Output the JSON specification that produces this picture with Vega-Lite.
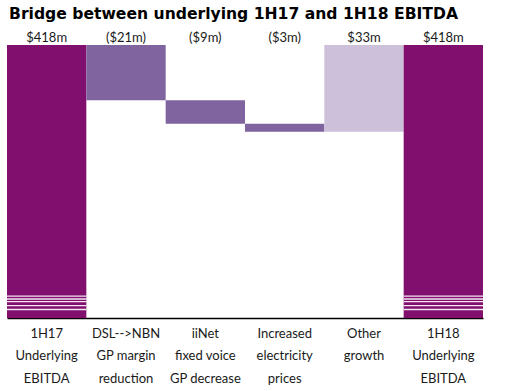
{
  "$schema": "https://vega.github.io/schema/vega-lite/v6.json",
  "autosize": "none",
  "width": 476,
  "height": 273,
  "padding": {"left": 7, "top": 45, "right": 32, "bottom": 73},
  "background": "white",
  "title": {
    "text": "Bridge between underlying 1H17 and 1H18 EBITDA",
    "anchor": "start",
    "font": "DejaVu Sans",
    "fontSize": 15.6,
    "fontWeight": "bold",
    "color": "#000000",
    "offset": 9,
    "dx": 2
  },
  "config": {"view": {"stroke": null}},
  "data": {
    "values": [
      {"cat": "1H17|Underlying|EBITDA", "start": 0, "end": 418, "kind": "total", "label": "$418m"},
      {"cat": "DSL-->NBN|GP margin|reduction", "start": 418, "end": 397, "kind": "down", "label": "($21m)"},
      {"cat": "iiNet|fixed voice|GP decrease", "start": 397, "end": 388, "kind": "down", "label": "($9m)"},
      {"cat": "Increased|electricity|prices", "start": 388, "end": 385, "kind": "down", "label": "($3m)"},
      {"cat": "Other|growth", "start": 385, "end": 418, "kind": "up", "label": "$33m"},
      {"cat": "1H18|Underlying|EBITDA", "start": 0, "end": 418, "kind": "total", "label": "$418m"}
    ]
  },
  "encoding": {
    "x": {
      "field": "cat",
      "type": "nominal",
      "sort": null,
      "title": null,
      "scale": {"paddingInner": 0, "paddingOuter": 0},
      "axis": {
        "labelAngle": 0,
        "labelExpr": "split(datum.label, '|')",
        "labelFont": "Lato",
        "labelFontSize": 13,
        "labelColor": "#1a1a1a",
        "labelLineHeight": 22.5,
        "labelPadding": 9,
        "ticks": false,
        "domainColor": "#000000",
        "domainWidth": 1.5,
        "grid": false
      }
    }
  },
  "layer": [
    {
      "mark": {"type": "bar", "clip": true},
      "encoding": {
        "y": {"field": "start", "type": "quantitative", "scale": {"domain": [314, 418], "nice": false, "zero": false}, "axis": null},
        "y2": {"field": "end"},
        "color": {
          "field": "kind",
          "type": "nominal",
          "scale": {"domain": ["total", "down", "up"], "range": ["#800F6E", "#7F64A0", "#CDC0DA"]},
          "legend": null
        }
      }
    },
    {
      "data": {
        "values": [
          {"cat": "1H17|Underlying|EBITDA", "lo": 322.1, "hi": 322.6},
          {"cat": "1H17|Underlying|EBITDA", "lo": 321.0, "hi": 321.5},
          {"cat": "1H17|Underlying|EBITDA", "lo": 320.0, "hi": 320.5},
          {"cat": "1H17|Underlying|EBITDA", "lo": 318.5, "hi": 319.0},
          {"cat": "1H17|Underlying|EBITDA", "lo": 317.0, "hi": 317.5},
          {"cat": "1H18|Underlying|EBITDA", "lo": 322.1, "hi": 322.6},
          {"cat": "1H18|Underlying|EBITDA", "lo": 321.0, "hi": 321.5},
          {"cat": "1H18|Underlying|EBITDA", "lo": 320.0, "hi": 320.5},
          {"cat": "1H18|Underlying|EBITDA", "lo": 318.5, "hi": 319.0},
          {"cat": "1H18|Underlying|EBITDA", "lo": 317.0, "hi": 317.5}
        ]
      },
      "mark": {"type": "bar", "color": "#ffffff", "opacity": 0.9},
      "encoding": {
        "y": {"field": "lo", "type": "quantitative"},
        "y2": {"field": "hi"}
      }
    },
    {
      "mark": {"type": "text", "font": "Lato", "fontSize": 13, "color": "#1a1a1a", "dy": -3, "baseline": "alphabetic"},
      "encoding": {
        "y": {"datum": 418},
        "text": {"field": "label"}
      }
    }
  ]
}
